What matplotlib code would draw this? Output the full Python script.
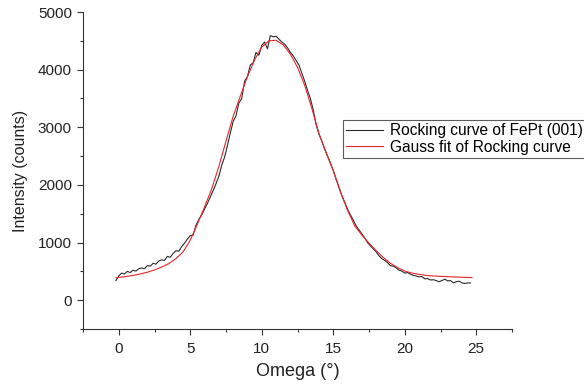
import numpy as np
import matplotlib
matplotlib.use("Agg")
import matplotlib.pyplot as plt

# ---- data ----
data_x_start = -0.2
data_x_step = 0.2
data_y = [
    340, 420, 470, 455, 500, 480, 520, 505, 545, 560,
    545, 600, 590, 640, 625, 680, 700, 690, 760, 745,
    810, 860, 850, 930, 990, 1060, 1120, 1130, 1300, 1400,
    1480, 1580, 1680, 1790, 1900, 2020, 2150, 2340, 2480, 2680,
    2900, 3100, 3200, 3420, 3500, 3800, 3880, 4080, 4120, 4300,
    4250, 4420, 4480, 4360, 4590, 4570, 4580, 4530, 4480, 4440,
    4380, 4300, 4240, 4160, 4080, 3940, 3800, 3640, 3500, 3300,
    3050, 2880, 2760, 2620, 2500, 2380, 2250, 2100, 1960, 1820,
    1700, 1580, 1480, 1390, 1290, 1220, 1150, 1080, 1000, 940,
    890, 840, 770, 720, 690, 650, 600, 590, 560, 520,
    505, 470, 480, 450, 430, 420, 405, 410, 370, 375,
    350, 355, 340, 320, 340, 365, 335, 340, 300, 320,
    330, 300, 290, 300, 300,
]
data_x = [round(data_x_start + data_x_step * i, 2) for i in range(len(data_y))]

fit_x = [-0.2, 0.5, 1.0, 1.5, 2.0, 2.5, 3.0, 3.5, 4.0, 4.5, 5.0, 5.5, 6.0, 6.5,
         7.0, 7.5, 8.0, 8.5, 9.0, 9.5, 10.0, 10.5, 11.0, 11.5, 12.0, 12.5,
         13.0, 13.5, 14.0, 14.5, 15.0, 15.5, 16.0, 16.5, 17.0, 17.5, 18.0,
         18.5, 19.0, 19.5, 20.0, 20.5, 21.0, 21.5, 22.0, 23.0, 24.0, 24.7]
fit_y = [390, 410, 430, 455, 485, 525, 575, 635, 720, 840, 1040, 1320, 1620, 1930,
         2320, 2760, 3190, 3540, 3880, 4170, 4390, 4500, 4510, 4430, 4270, 4040,
         3730, 3330, 2890, 2560, 2250, 1880, 1560, 1290, 1130, 990, 860,
         740, 640, 565, 505, 470, 448, 430, 420, 408, 398, 392]

series_labels = ["Rocking curve of FePt (001)", "Gauss fit of Rocking curve"]
x_ticks = [0, 5, 10, 15, 20, 25]
y_ticks = [0, 1000, 2000, 3000, 4000, 5000]

plt.rcParams['font.family'] = ['Liberation Sans', 'DejaVu Sans']

fig = plt.figure(figsize=(5.84, 3.87), dpi=100)
ax = fig.add_axes([83/584, 1 - 329/387, (512 - 83)/584, (329 - 12)/387])

ax.plot(data_x, data_y, color='#2b2b2b', lw=0.8, label=series_labels[0])
ax.plot(fit_x, fit_y, color='#e8262b', lw=0.8, label=series_labels[1])

ax.set_xlim(-2.5, 27.5)
ax.set_ylim(-500, 5000)
ax.set_xticks(x_ticks)
ax.set_yticks(y_ticks)
ax.set_xticks(np.arange(-2.5, 27.6, 2.5), minor=True)
ax.set_yticks(np.arange(-500, 5001, 500), minor=True)

for s in ['top', 'right']:
    ax.spines[s].set_visible(False)
for s in ['left', 'bottom']:
    ax.spines[s].set_color('#333333')
    ax.spines[s].set_linewidth(0.8)

ax.tick_params(which='major', direction='out', length=4.5, width=0.8,
               colors='#333333', labelsize=11, labelcolor='#222222')
ax.tick_params(axis='x', which='major', pad=5)
ax.tick_params(axis='y', which='major', pad=3.5)
ax.tick_params(which='minor', direction='out', length=2.3, width=0.8, colors='#333333')

ax.set_xlabel("Omega (°)", fontsize=13, color='#222222', labelpad=5)
ax.set_ylabel("Intensity (counts)", fontsize=11.5, color='#222222', labelpad=7)

leg = ax.legend(loc='upper left', bbox_to_anchor=(343/584, 1 - 120/387),
                bbox_transform=fig.transFigure, borderaxespad=0,
                fontsize=11.2, frameon=True, fancybox=False, handlelength=2.4,
                borderpad=0.2, labelspacing=0.1, handletextpad=0.4)
leg.get_frame().set_edgecolor('#333333')
leg.get_frame().set_linewidth(0.8)

fig.savefig("out.png", dpi=100)
